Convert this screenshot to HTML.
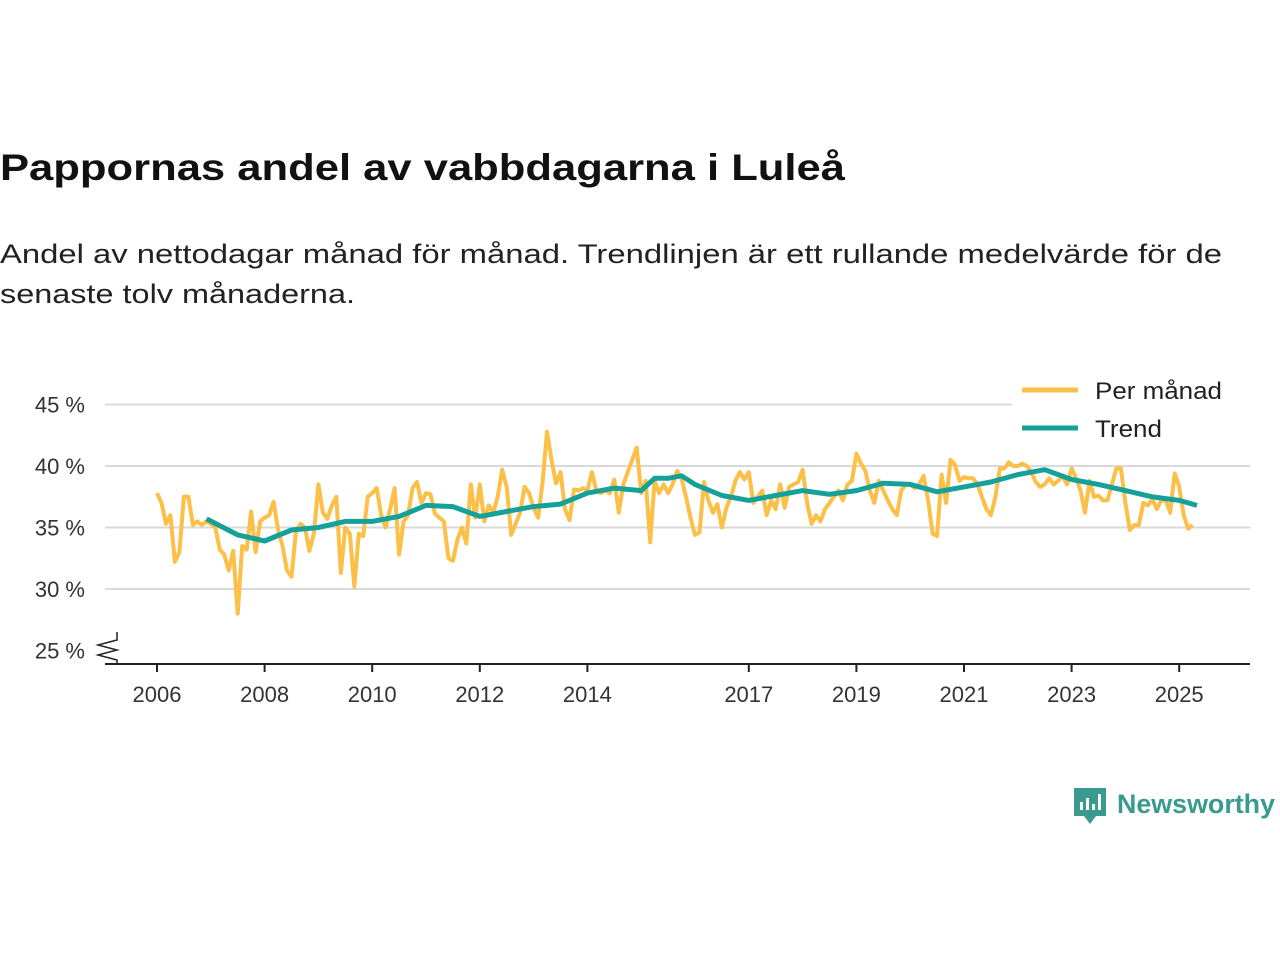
<!DOCTYPE html>
<html><head><meta charset="utf-8"><style>
body{margin:0;background:#fff;width:1280px;height:960px;overflow:hidden;font-family:"Liberation Sans",sans-serif;color:#111}
svg{position:absolute;left:0;top:0}
</style></head><body>
<svg id="chart" width="1280" height="960">
<text x="0" y="180" font-size="37" font-weight="bold" fill="#111" textLength="845" lengthAdjust="spacingAndGlyphs">Pappornas andel av vabbdagarna i Luleå</text>
<text x="0" y="263" font-size="27" fill="#222" textLength="1222" lengthAdjust="spacingAndGlyphs">Andel av nettodagar månad för månad. Trendlinjen är ett rullande medelvärde för de</text>
<text x="0" y="303" font-size="27" fill="#222" textLength="355" lengthAdjust="spacingAndGlyphs">senaste tolv månaderna.</text>
</svg>
<script>
const startYear = 2006;
const monthly = [
37.8,37,35.3,36,32.2,33,37.5,37.5,35.2,35.5,35.2,35.5,
35.3,35,33.2,32.8,31.5,33.1,28,33.5,33.2,36.3,33,35.5,
35.8,36,37.1,34.8,33.5,31.5,31,34.7,35.3,35,33.1,34.5,
38.5,36.2,35.7,36.8,37.5,31.3,35,34.5,30.2,34.5,34.3,37.5,
37.8,38.2,36,35,36.5,38.2,32.8,35.5,36,38.2,38.7,37,
37.8,37.7,36.1,35.8,35.5,32.5,32.3,34,35,33.7,38.5,35.8,
38.5,35.5,36.8,36.2,37.5,39.7,38.3,34.4,35.3,36.2,38.3,37.8,
36.6,35.8,38.7,42.8,40.5,38.6,39.5,36.5,35.6,38.1,38,38.2,
38,39.5,38,37.8,38,37.8,38.9,36.2,38.5,39.5,40.5,41.5,
37.8,38.8,33.8,38.8,37.8,38.5,37.8,38.5,39.6,39,37.5,35.8,
34.4,34.6,38.7,37.2,36.2,36.9,35,36.6,37.5,38.8,39.5,38.9,
39.5,37,37.5,38,36,37.2,36.5,38.5,36.6,38.3,38.5,38.7,
39.7,37,35.3,36,35.5,36.5,37,37.5,38,37.2,38.5,38.8,
41,40.2,39.6,38,37,38.8,38,37.2,36.5,36,38,38.5,
38.5,38.2,38.5,39.2,37.2,34.5,34.3,39.3,37,40.5,40.1,38.8,
39.1,39,39,38.5,37.5,36.5,36,37.5,39.8,39.8,40.3,40,
40,40.2,40,39.5,38.7,38.3,38.5,39,38.5,38.8,39.2,38.5,
39.8,39,38,36.2,38.8,37.5,37.6,37.2,37.2,38.5,39.8,39.8,
37,34.8,35.2,35.2,37,36.8,37.3,36.5,37.2,37.2,36.2,39.4,
38.3,36,34.9,35.2];
const trendYears = [2006.92,2007.5,2008,2008.5,2009,2009.5,2010,2010.5,2011,2011.5,2012,2012.5,2013,2013.5,2014,2014.5,2015,2015.25,2015.5,2015.75,2016,2016.5,2017,2017.5,2018,2018.5,2019,2019.5,2020,2020.5,2021,2021.5,2022,2022.5,2023,2023.5,2024,2024.5,2025,2025.33];
const trendValues = [35.7,34.4,33.9,34.8,35.0,35.5,35.5,35.9,36.8,36.7,35.9,36.3,36.7,36.9,37.8,38.2,38.0,39.0,39.0,39.2,38.5,37.6,37.2,37.6,38.0,37.7,38.0,38.6,38.5,37.9,38.3,38.7,39.3,39.7,38.9,38.5,38.0,37.5,37.2,36.8];
const yTicks = [25,30,35,40,45];
const xTicks = [2006,2008,2010,2012,2014,2017,2019,2021,2023,2025];
const svg = document.getElementById('chart');
const NS='http://www.w3.org/2000/svg';
const X = t => 157 + (t-2006)*53.8;
const Y = v => 466 - (v-40)*12.3;
function mk(tag, attrs, parent){const e=document.createElementNS(NS,tag);for(const k in attrs)e.setAttribute(k,attrs[k]);(parent||svg).appendChild(e);return e;}
yTicks.forEach(v=>{
  if(v>25){const g=mk('line',{x1:105,x2:1250,y1:Y(v),y2:Y(v),stroke:'#d9d9d9','stroke-width':2});
  
  }
  const t=mk('text',{x:85,y:Y(v)+8,'text-anchor':'end','font-size':22,fill:'#333'});
  t.textContent=v+' %';
  
  
});
const ax=mk('line',{x1:105,x2:1250,y1:664,y2:664,stroke:'#222','stroke-width':2});


const zz=mk('polyline',{points:'117,632 117,640 98,645 117,650 98,655 117,660 117,664',fill:'none',stroke:'#222','stroke-width':1.5});


xTicks.forEach(yr=>{
  const l=mk('line',{x1:X(yr),x2:X(yr),y1:664,y2:672,stroke:'#222','stroke-width':2});
  
  
  const t=mk('text',{x:X(yr),y:702,'text-anchor':'middle','font-size':22,fill:'#333'});
  t.textContent=yr;
  
  
});
const mp=monthly.map((v,i)=>X(startYear+i/12).toFixed(1)+','+Y(v).toFixed(1)).join(' ');
const ml=mk('polyline',{points:mp,fill:'none',stroke:'#fcbf47','stroke-width':4,'stroke-linejoin':'round'});


const tp=trendValues.map((v,i)=>X(trendYears[i]).toFixed(1)+','+Y(v).toFixed(1)).join(' ');
const tl=mk('polyline',{points:tp,fill:'none',stroke:'#15a099','stroke-width':5,'stroke-linejoin':'round'});


const lg=mk('g',{});


mk('rect',{x:1012,y:372,width:238,height:74,fill:'#fff'},lg);
mk('line',{x1:1022,x2:1078,y1:390,y2:390,stroke:'#fcbf47','stroke-width':5},lg);
mk('line',{x1:1022,x2:1078,y1:428,y2:428,stroke:'#15a099','stroke-width':5},lg);
const l1=mk('text',{x:1095,y:399,'font-size':24,fill:'#222',textLength:127,lengthAdjust:'spacingAndGlyphs'},lg);l1.textContent='Per månad';


const l2=mk('text',{x:1095,y:437,'font-size':24,fill:'#222',textLength:67,lengthAdjust:'spacingAndGlyphs'},lg);l2.textContent='Trend';


const lo=mk('g',{});


mk('path',{d:'M1074,788 h32 v28 h-10 l-6,8 l-6,-8 h-10 z',fill:'#3a9a8f'},lo);
mk('rect',{x:1080,y:802,width:3,height:8,fill:'#fff'},lo);
mk('rect',{x:1086,y:798,width:3,height:12,fill:'#fff'},lo);
mk('rect',{x:1092,y:804,width:3,height:6,fill:'#fff'},lo);
mk('rect',{x:1098,y:794,width:3,height:16,fill:'#fff'},lo);
const lt=mk('text',{x:1117,y:813,'font-size':27,'font-weight':'bold',fill:'#3a9a8f',textLength:158,lengthAdjust:'spacingAndGlyphs'},lo);lt.textContent='Newsworthy';
</script>
</body></html>
